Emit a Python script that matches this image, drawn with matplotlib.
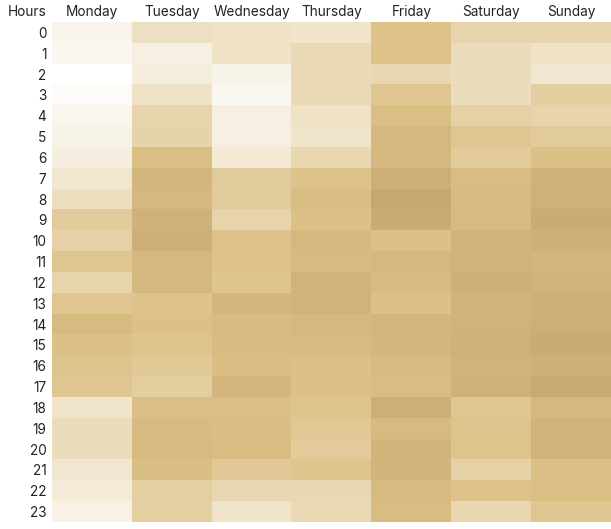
import matplotlib.pyplot as plt
import numpy as np
from matplotlib.colors import LinearSegmentedColormap

plt.rcParams['font.family'] = ['Inter', 'DejaVu Sans']

days = ["Monday", "Tuesday", "Wednesday", "Thursday", "Friday", "Saturday", "Sunday"]
hours = list(range(24))

# valores (0 = mas claro, 100 = mas oscuro)
monday = [10, 8, 0, 4, 9, 12, 17, 25, 33, 50, 45, 55, 42, 55, 68, 60, 57, 55, 27, 35, 35, 25, 20, 13]
tuesday = [32, 15, 18, 30, 42, 43, 62, 73, 70, 77, 80, 70, 70, 58, 60, 57, 52, 48, 62, 66, 68, 63, 47, 47]
wednesday = [30, 30, 12, 8, 15, 15, 22, 50, 50, 42, 58, 58, 56, 72, 66, 66, 64, 72, 62, 63, 65, 52, 40, 28]
thursday = [28, 38, 38, 38, 30, 28, 40, 58, 63, 60, 70, 68, 75, 75, 70, 68, 60, 60, 57, 53, 50, 56, 40, 38]
friday = [58, 58, 40, 55, 62, 70, 70, 82, 90, 85, 60, 70, 68, 60, 72, 72, 68, 65, 82, 68, 74, 74, 68, 65]
saturday = [42, 35, 35, 35, 45, 55, 50, 65, 68, 68, 75, 75, 80, 75, 75, 78, 76, 78, 55, 57, 57, 45, 58, 40]
sunday = [42, 30, 25, 48, 42, 50, 60, 78, 78, 85, 80, 72, 75, 80, 82, 85, 80, 88, 70, 75, 75, 62, 62, 55]

datos = np.array([monday, tuesday, wednesday, thursday, friday, saturday, sunday]).T

cmap = LinearSegmentedColormap.from_list(
    "tan", [(0.0, "#ffffff"), (0.3, "#efe2c6"), (0.6, "#dcc186"), (1.0, "#bf9f6b")])

fig = plt.figure(figsize=(6.11, 5.29), dpi=100)
ax = fig.add_axes([52 / 611, 1 - 522 / 529, 1 - 52 / 611, 500 / 529])
ax.imshow(datos, cmap=cmap, vmin=0, vmax=100, aspect="auto", interpolation="nearest")

ax.xaxis.tick_top()
ax.set_xticks(range(len(days)))
ax.set_xticklabels(days, fontsize=9.8, color="#222222")
ax.set_yticks(range(len(hours)))
ax.set_yticklabels([str(h) for h in hours], fontsize=9.8, color="#222222")
ax.tick_params(axis="x", length=0, pad=2.5)
ax.tick_params(axis="y", length=0, pad=4)
for s in ax.spines.values():
    s.set_visible(False)

fig.text(27 / 611, 1 - 12.5 / 529, "Hours", ha="center", va="center", fontsize=9.8, color="#222222")

plt.savefig("out.png", dpi=100)
